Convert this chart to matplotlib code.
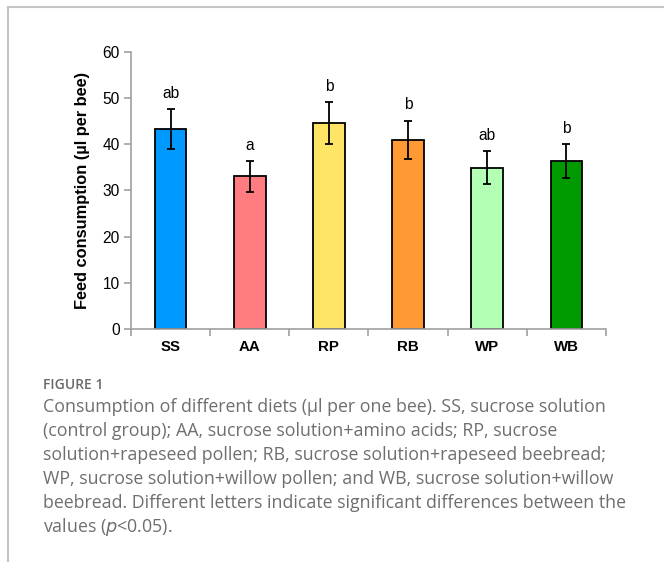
import matplotlib
matplotlib.use("Agg")
import matplotlib.pyplot as plt
from matplotlib.lines import Line2D

categories = ["SS", "AA", "RP", "RB", "WP", "WB"]
means = [43.2, 33.0, 44.6, 40.9, 34.9, 36.3]
errors = [4.3, 3.3, 4.5, 4.1, 3.6, 3.7]
letters = ["ab", "a", "b", "b", "ab", "b"]
colors = ["#0099FF", "#FF7C80", "#FFE466", "#FF9933", "#B3FFB3", "#009900"]
yticks = [0, 10, 20, 30, 40, 50, 60]

caption_lines = [
    "Consumption of different diets (\u00b5l per one bee). SS, sucrose solution",
    "(control group); AA, sucrose solution+amino acids; RP, sucrose",
    "solution+rapeseed pollen; RB, sucrose solution+rapeseed beebread;",
    "WP, sucrose solution+willow pollen; and WB, sucrose solution+willow",
    "beebread. Different letters indicate significant differences between the",
]

W, H = 664, 562
fig = plt.figure(figsize=(W / 100, H / 100), dpi=100)
fig.patch.set_facecolor("white")

ax = fig.add_axes([131 / W, 1 - 329 / H, (606 - 131) / W, (329 - 51.7) / H])
x = list(range(len(categories)))
ax.bar(x, means, width=0.4, color=colors, edgecolor="black", linewidth=1.3, zorder=2)
ax.errorbar(x, means, yerr=errors, fmt="none", ecolor="black", elinewidth=1.3,
            capsize=3, capthick=1.3, zorder=3)
for xi, m, e, lab in zip(x, means, errors, letters):
    ax.text(xi, m + e + 2.5, lab, ha="center", va="baseline",
            fontsize=11.2, family="Liberation Sans")

ax.set_xlim(-0.5, len(categories) - 0.5)
ax.set_ylim(0, 60)
ax.set_yticks(yticks)
ax.set_yticklabels([str(t) for t in yticks], fontsize=11.2, family="Liberation Sans")
ax.set_xticks([i - 0.5 for i in range(len(categories) + 1)])
ax.set_xticklabels([])
ax.set_xticks(x, minor=True)
ax.set_xticklabels(categories, minor=True, fontsize=10.8, fontweight="bold",
                   family="Liberation Sans")
ax.tick_params(axis="x", which="minor", length=0, pad=8)
ax.tick_params(axis="x", which="major", length=5, color="#a0a0a0", width=1.2, direction="out")
ax.tick_params(axis="y", length=5, color="#a0a0a0", width=1.2, direction="out", pad=3)
for s in ["top", "right"]:
    ax.spines[s].set_visible(False)
for s in ["left", "bottom"]:
    ax.spines[s].set_color("#a0a0a0")
    ax.spines[s].set_linewidth(1.2)
ax.set_ylabel("Feed consumption (\u00b5l per bee)", fontsize=11.8, fontweight="bold",
              family="Liberation Sans", labelpad=9)

# frame lines
fig.add_artist(Line2D([8 / W, 1], [1 - 7 / H, 1 - 7 / H], color="#c4c4c4", lw=1.5))
fig.add_artist(Line2D([8 / W, 8 / W], [1 - 7 / H, 0], color="#c4c4c4", lw=1.5))

x0 = 43
fig.text(x0 / W, 1 - 385 / H, "FIGURE 1", fontsize=10, color="#6a6a6a",
         family="Open Sans", va="center", ha="left", fontweight="semibold")
y0 = 407
step = 24
for i, line in enumerate(caption_lines):
    fig.text(x0 / W, 1 - (y0 + i * step) / H, line, fontsize=12.8, color="#6e6e6e",
             family="Open Sans", va="center", ha="left")
fig.text(x0 / W, 1 - (y0 + 5 * step) / H, "values ($\\it{p}$<0.05).", fontsize=12.8,
         color="#6e6e6e", family="Open Sans", va="center", ha="left")

fig.savefig("out.png", dpi=100, facecolor="white")
